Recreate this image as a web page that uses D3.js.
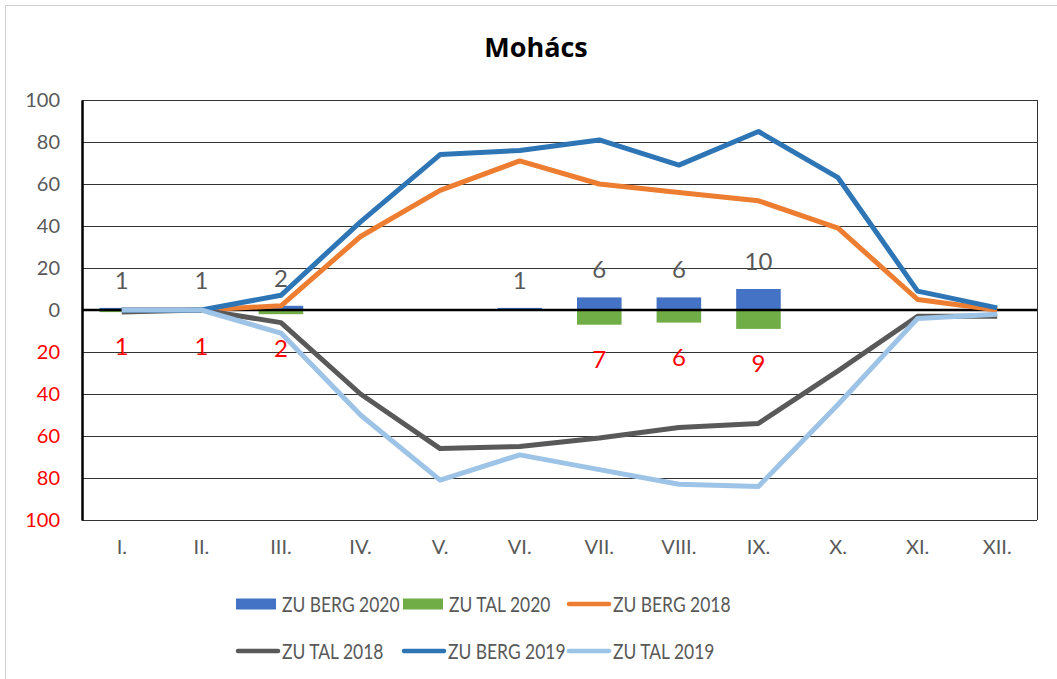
<!DOCTYPE html>
<html>
<head>
<meta charset="utf-8">
<title>Mohács</title>
<script src="https://cdnjs.cloudflare.com/ajax/libs/d3/7.8.5/d3.min.js"></script>
<style>
  body { margin: 0; background: #fff; }
  text { font-family: Lato, "Liberation Sans", sans-serif; }
</style>
</head>
<body>
<div id="chart"></div>
<script>
// months
var months = ["I.", "II.", "III.", "IV.", "V.", "VI.", "VII.", "VIII.", "IX.", "X.", "XI.", "XII."];
// bars 2020 (upward / downward)
var berg2020 = [1, 1, 2, 0, 0, 1, 6, 6, 10, 0, 0, 0];
var tal2020 = [-1, -1, -2, 0, 0, 0, -7, -6, -9, 0, 0, 0];
// lines
var berg2018 = [0, 0, 2, 35, 57, 71, 60, 56, 52, 39, 5, 0];
var tal2018 = [-1, 0, -6, -40, -66, -65, -61, -56, -54, -29, -3, -3];
var berg2019 = [0, 0, 7, 42, 74, 76, 81, 69, 85, 63, 9, 1];
var tal2019 = [0, 0, -11, -50, -81, -69, -76, -83, -84, -45, -4, -2];
var yTicks = [-100, -80, -60, -40, -20, 0, 20, 40, 60, 80, 100];

var W = 1057, H = 679;
var pLeft = 82, pRight = 1037, pTop = 100, pBottom = 520;

var svg = d3.select('#chart').append('svg')
    .attr('width', W).attr('height', H);

// outer frame (only top and left visible in the original)
svg.append('line').attr('x1', 5).attr('x2', W).attr('y1', 5.5).attr('y2', 5.5)
    .attr('stroke', '#d0d0d0');
svg.append('line').attr('x1', 5.5).attr('x2', 5.5).attr('y1', 5).attr('y2', H)
    .attr('stroke', '#d0d0d0');

svg.append('text').attr('x', 536).attr('y', 57)
    .attr('text-anchor', 'middle')
    .style('font-size', '27px').style('font-weight', 'bold')
    .style('font-family', '"Open Sans", Lato, sans-serif')
    .attr('fill', '#000')
    .text('Mohács');

var x = d3.scaleBand().domain(months).range([pLeft, pRight]).padding(0);
var y = d3.scaleLinear().domain([-100, 100]).range([pBottom, pTop]);
var cx = function(i){ return x(months[i]) + x.bandwidth() / 2; };

// grid
svg.append('g').selectAll('line').data(yTicks).enter().append('line')
    .attr('x1', pLeft).attr('x2', pRight)
    .attr('y1', function(d){ return Math.round(y(d)) + 0.5; })
    .attr('y2', function(d){ return Math.round(y(d)) + 0.5; })
    .attr('stroke', '#333').attr('stroke-width', 1);
svg.append('line').attr('x1', pRight + 0.5).attr('x2', pRight + 0.5)
    .attr('y1', pTop).attr('y2', pBottom).attr('stroke', '#333');

// y axis
var yAxis = svg.append('g').attr('transform', 'translate(' + pLeft + ',0)')
    .call(d3.axisLeft(y).tickValues(yTicks).tickSize(0).tickPadding(22)
        .tickFormat(function(d){ return Math.abs(d); }));
yAxis.select('.domain').attr('stroke', '#000').attr('stroke-width', 2.5);
yAxis.selectAll('text')
    .style('font-size', '20px')
    .style('font-family', 'Lato, sans-serif')
    .attr('fill', function(d){ return d < 0 ? '#ff0000' : '#595959'; });

// x axis labels
var xAxis = svg.append('g').attr('transform', 'translate(0,' + pBottom + ')')
    .call(d3.axisBottom(x).tickSize(0).tickPadding(20));
xAxis.select('.domain').remove();
xAxis.selectAll('text').style('font-size', '20px')
    .style('font-family', 'Lato, sans-serif').attr('fill', '#595959');

// bars
var bw = x.bandwidth() * 0.56;
svg.append('g').selectAll('rect').data(berg2020).enter().append('rect')
    .attr('x', function(d, i){ return cx(i) - bw / 2; })
    .attr('y', function(d){ return y(d); })
    .attr('width', bw)
    .attr('height', function(d){ return y(0) - y(d); })
    .attr('fill', '#4472C4');
svg.append('g').selectAll('rect').data(tal2020).enter().append('rect')
    .attr('x', function(d, i){ return cx(i) - bw / 2; })
    .attr('y', y(0))
    .attr('width', bw)
    .attr('height', function(d){ return y(d) - y(0); })
    .attr('fill', '#70AD47');

// zero line
svg.append('line').attr('x1', pLeft).attr('x2', pRight)
    .attr('y1', y(0)).attr('y2', y(0))
    .attr('stroke', '#000').attr('stroke-width', 2.5);

// lines
var line = d3.line().x(function(d, i){ return cx(i); }).y(function(d){ return y(d); });
var series = [
    {v: berg2018, c: '#ED7D31'},
    {v: tal2018, c: '#595959'},
    {v: berg2019, c: '#2E75B6'},
    {v: tal2019, c: '#9DC3E6'}
];
series.forEach(function(s){
    svg.append('path').datum(s.v).attr('d', line)
        .attr('fill', 'none').attr('stroke', s.c)
        .attr('stroke-width', 5).attr('stroke-linejoin', 'round');
});

// bar labels
var topLab = svg.append('g');
berg2020.forEach(function(d, i){
    if (d <= 0) return;
    topLab.append('text').attr('x', cx(i)).attr('y', y(d) - 19)
        .attr('text-anchor', 'middle').style('font-size', '24px')
        .attr('fill', '#595959').text(d);
});
var botLab = svg.append('g');
tal2020.forEach(function(d, i){
    if (d >= 0) return;
    botLab.append('text').attr('x', cx(i)).attr('y', y(d) + 43)
        .attr('text-anchor', 'middle').style('font-size', '24px')
        .attr('fill', '#ff0000').text(Math.abs(d));
});

// legend
var legend = [
    {t: 'ZU BERG 2020', c: '#4472C4', bar: true, x: 236, y: 604},
    {t: 'ZU TAL 2020', c: '#70AD47', bar: true, x: 403, y: 604},
    {t: 'ZU BERG 2018', c: '#ED7D31', bar: false, x: 567, y: 604},
    {t: 'ZU TAL 2018', c: '#595959', bar: false, x: 236, y: 651},
    {t: 'ZU BERG 2019', c: '#2E75B6', bar: false, x: 402, y: 651},
    {t: 'ZU TAL 2019', c: '#9DC3E6', bar: false, x: 567, y: 651}
];
var lg = svg.append('g');
legend.forEach(function(l){
    if (l.bar) {
        lg.append('rect').attr('x', l.x).attr('y', l.y - 5.5)
            .attr('width', 40).attr('height', 11).attr('fill', l.c);
    } else {
        lg.append('line').attr('x1', l.x + 2).attr('x2', l.x + 42)
            .attr('y1', l.y).attr('y2', l.y)
            .attr('stroke', l.c).attr('stroke-width', 4.5).attr('stroke-linecap', 'round');
    }
    var t = lg.append('text').attr('x', l.x + 46).attr('y', l.y + 7.5)
        .style('font-size', '21px').attr('fill', '#595959').text(l.t);
    // narrow the text a little, the original font is condensed
    var w = t.node().getComputedTextLength();
    t.attr('textLength', w * 0.83).attr('lengthAdjust', 'spacingAndGlyphs');
});
</script>
</body>
</html>
